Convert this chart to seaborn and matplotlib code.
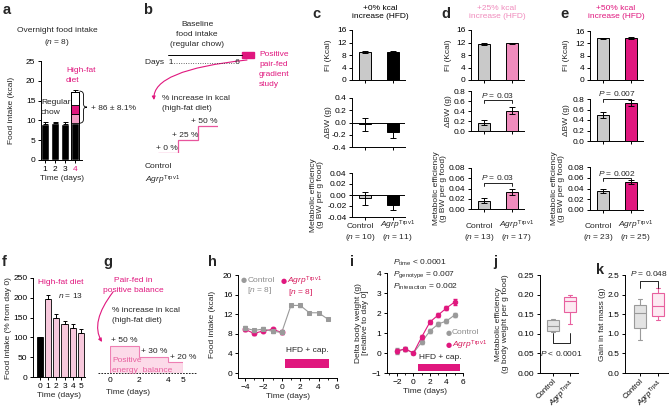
import matplotlib
matplotlib.use('Agg')
import matplotlib.pyplot as plt
import seaborn as sns
from matplotlib.path import Path
from matplotlib.patches import PathPatch, FancyArrowPatch
from matplotlib.transforms import Affine2D, blended_transform_factory
from matplotlib.ticker import MultipleLocator, FormatStrFormatter

# ---------------- data ----------------
# panel a
a_days = ['1', '2', '3', '4']
a_chow = [9.2, 9.3, 9.2, 9.3]
a_chow_err = [0.45, 0.4, 0.45, 0.0]
a_hfd_bounds = [9.3, 11.6, 14.0, 17.2]
a_hfd_err = 0.6
a_increase = '+ 86 ± 8.1%'

# panels c-e
groups = ['Control', 'Agrp']
c_fi, c_fi_err = [9.0, 9.1], [0.3, 0.2]
c_bw, c_bw_err = [-0.03, -0.16], [0.11, 0.10]
c_me, c_me_err = [-0.006, -0.018], [0.012, 0.010]
c_n = [10, 11]
d_fi, d_fi_err = [11.4, 11.7], [0.3, 0.3]
d_bw, d_bw_err = [0.17, 0.41], [0.05, 0.07]
d_me, d_me_err = [0.016, 0.034], [0.005, 0.006]
d_n = [13, 17]
d_p = ['0.03', '0.03']
e_fi, e_fi_err = [13.6, 13.7], [0.25, 0.25]
e_bw, e_bw_err = [0.49, 0.72], [0.06, 0.06]
e_me, e_me_err = [0.035, 0.052], [0.004, 0.003]
e_n = [23, 25]
e_p = ['0.007', '0.002']

# panel f
f_days = ['0', '1', '2', '3', '4', '5']
f_vals = [100, 198, 150, 134, 125, 112]
f_err = [2, 8, 8, 8, 10, 10]

# panel b / g schematics
b_pct = [0, 25, 50]
g_edges = [0, 2, 4, 5]
g_pct = [50, 30, 20]

# panel h
h_days = [-4, -3, -2, -1, 0, 1, 2, 3, 4, 5]
h_ctrl = [9.2, 8.7, 9.0, 8.5, 8.3, 13.8, 13.8, 12.3, 12.3, 11.0]
h_ctrl_err = [0.5, 0.3, 0.3, 0.3, 0.4, 0.3, 0.3, 0.2, 0.2, 0.2]
h_agrp_days = [-4, -3, -2, -1, 0]
h_agrp = [8.9, 8.1, 8.6, 8.9, 8.3]
h_agrp_err = [0.3, 0.3, 0.3, 0.2, 0.3]
h_hfd = [0.4, 5.1]

# panel i
i_days = [-2, -1, 0, 1, 2, 3, 4, 5]
i_ctrl = [0.1, 0.2, 0.0, 0.55, 1.1, 1.45, 1.6, 1.9]
i_ctrl_err = [0.15, 0.1, 0.03, 0.1, 0.1, 0.12, 0.12, 0.12]
i_agrp = [0.1, 0.2, 0.0, 0.8, 1.55, 1.9, 2.25, 2.55]
i_agrp_err = [0.12, 0.1, 0.03, 0.1, 0.1, 0.12, 0.12, 0.15]
i_hfd = [0.55, 5.6]

# panels j, k (box summaries)
j_whislo = [0.104, 0.125]
j_q1 = [0.108, 0.156]
j_med = [0.121, 0.184]
j_q3 = [0.135, 0.195]
j_whishi = [0.138, 0.200]
k_whislo = [0.83, 1.36]
k_q1 = [1.16, 1.46]
k_med = [1.52, 1.70]
k_q3 = [1.74, 2.03]
k_whishi = [1.89, 2.18]

# ---------------- style ----------------
sns.set_style('ticks')
plt.rcParams['font.family'] = ['Liberation Sans', 'DejaVu Sans']
plt.rcParams['mathtext.fontset'] = 'custom'
plt.rcParams['mathtext.rm'] = 'Liberation Sans'
plt.rcParams['mathtext.it'] = 'Liberation Sans:italic'
plt.rcParams['mathtext.bf'] = 'Liberation Sans:bold'
FS = 6.0
plt.rcParams.update({'font.size': FS, 'axes.linewidth': 0.7,
                     'xtick.labelsize': FS, 'ytick.labelsize': FS,
                     'axes.edgecolor': 'black', 'xtick.color': 'black', 'ytick.color': 'black'})

MAG = '#e0177e'
PINK = '#f08cbd'
LPINK = '#f7c8dc'
GRAY = '#c9c9c9'
DGRAY = '#9a9a9a'
AGRP = r'$\it{Agrp}^{\rm{Trpv1}}$'

W, H = 669, 409
fig = plt.figure(figsize=(W / 100, H / 100), dpi=100)
PX = Affine2D().scale(1 / W, -1 / H).translate(0, 1) + fig.transFigure


def axpx(x0, y0, x1, y1):
    ax = fig.add_axes([x0 / W, 1 - y1 / H, (x1 - x0) / W, (y1 - y0) / H])
    ax.set_facecolor('none')
    sns.despine(ax=ax)
    ax.tick_params(length=2.5, width=0.7, pad=1.5, labelsize=FS)
    return ax


def tx(x, y, s, **kw):
    kw.setdefault('va', 'center')
    kw.setdefault('ha', 'left')
    kw.setdefault('fontsize', FS)
    return fig.text(x, y, s, transform=PX, **kw)


def ylab(x, y, s, **kw):
    tx(x, y, s, rotation=90, ha='center', va='center', **kw)


def bracket(ax, y, leg, text, ty, down=True):
    s = -1 if down else 1
    ax.plot([0, 0, 1, 1], [y + s * leg, y, y, y + s * leg], color='black', lw=0.6, clip_on=False)
    ax.text(0.5, ty, text, ha='center', va='center', fontsize=FS, clip_on=False)


# letters
for L, x, y in [('a', 3, 10), ('b', 143, 10), ('c', 312, 14), ('d', 441, 14), ('e', 560, 14),
                ('f', 2, 262), ('g', 103, 262), ('h', 208, 262), ('i', 350, 262), ('j', 493, 262), ('k', 596, 270)]:
    tx(x, y, L, fontsize=10.5, fontweight='bold')

# ---------------- panel a ----------------
ax = axpx(41, 61, 82, 160)
sns.barplot(x=a_days, y=a_chow, color='black', width=0.85, saturation=1, errorbar=None, ax=ax)
ax.errorbar(range(3), a_chow[:3], yerr=[[0] * 3, a_chow_err[:3]], fmt='none', ecolor='black',
            elinewidth=0.7, capsize=1.8, capthick=0.7)
i4 = a_days.index('4')
for lo, hi, col in zip(a_hfd_bounds[:-1], a_hfd_bounds[1:], ['#f29bc4', MAG, 'white']):
    ax.bar(i4, hi - lo, bottom=lo, width=0.85, color=col, edgecolor='black', lw=0.6)
ax.bar(i4, a_hfd_bounds[-1], width=0.85, fill=False, edgecolor='black', lw=0.7)
ax.errorbar([i4], [a_hfd_bounds[-1]], yerr=[[0], [a_hfd_err]], fmt='none', ecolor='black',
            elinewidth=0.7, capsize=1.8, capthick=0.7)
ax.set_xlim(-0.4, 3.7)
ax.set_ylim(0, 25)
ax.set_yticks(range(0, 26, 5))
ax.set_xticks(range(4), a_days)
ax.get_xticklabels()[3].set_color(MAG)
ax.set_xlabel('Time (days)', fontsize=FS, labelpad=2)
top, bot = a_hfd_bounds[-1] + 0.2, a_hfd_bounds[0]
mid = (top + bot) / 2
verts = [(3.45, top), (3.85, top), (3.85, top - 1.0), (3.85, mid + 0.8),
         (3.85, mid), (4.2, mid), (3.85, mid), (3.85, mid - 0.8),
         (3.85, bot + 1.0), (3.85, bot), (3.45, bot)]
codes = [Path.MOVETO, Path.CURVE3, Path.CURVE3, Path.LINETO, Path.CURVE3, Path.CURVE3,
         Path.CURVE3, Path.CURVE3, Path.LINETO, Path.CURVE3, Path.CURVE3]
ax.add_patch(PathPatch(Path(verts, codes), fill=False, lw=0.6, color='black', clip_on=False))
ylab(12, 110, 'Food intake (kcal)')
tx(57, 30, 'Overnight food intake', ha='center')
tx(57, 42, '($n$ = 8)', ha='center')
tx(41, 103, 'Regular', zorder=10)
tx(41, 113, 'chow', zorder=10)
tx(66, 71, 'High-fat', color=MAG)
tx(66, 81, 'diet', color=MAG)
tx(91, 108, a_increase)

# ---------------- panel b ----------------
tx(197, 25, 'Baseline', ha='center')
tx(197, 35, 'food intake', ha='center')
tx(197, 45, '(regular chow)', ha='center')
fig.add_artist(plt.Line2D([168, 242], [54.5, 54.5], transform=PX, color='black', lw=0.7))
fig.add_artist(plt.Rectangle((242, 51.5), 12, 6, transform=PX, color=MAG))
for k, s in enumerate(['Positive', 'pair-fed', 'gradient', 'study']):
    tx(259, 55 + 10 * k, s, color=MAG)
tx(145, 63, 'Days  1' + '.' * 26 + '6')
arr = FancyArrowPatch(path=Path([(247, 60), (152, 70), (154, 100)], [Path.MOVETO, Path.CURVE3, Path.CURVE3]),
                      transform=PX, arrowstyle='-|>', mutation_scale=5, color=MAG, lw=0.8)
fig.add_artist(arr)
tx(162, 98, '% increase in kcal')
tx(162, 108, '(high-fat diet)')
axb = fig.add_axes([158 / W, 1 - 153 / H, 60 / W, 32 / H])
axb.set_axis_off()
axb.stairs(b_pct, range(len(b_pct) + 1), baseline=None, color='#e8559d', lw=0.9)
axb.set_xlim(0, 3)
axb.set_ylim(0, 60)
for k, p in enumerate(b_pct):
    axb.text(k + 1, p + 2, f'+ {p} %', ha='right', va='bottom', fontsize=FS, clip_on=False)
tx(145, 167, 'Control')
tx(145, 180, AGRP)

# ---------------- panels c, d, e ----------------
cols = [
    dict(x0=352, fi=(c_fi, c_fi_err), bw=(c_bw, c_bw_err), me=(c_me, c_me_err), n=c_n, color='black',
         tcol='black', pct='+0%', rows=[(30, 80), (98, 147), (173, 217)], bwlim=(-0.4, 0.4),
         melim=(-0.04, 0.04), p=None, tc=380, lab=(24, 35)),
    dict(x0=471, fi=(d_fi, d_fi_err), bw=(d_bw, d_bw_err), me=(d_me, d_me_err), n=d_n, color=PINK,
         tcol=PINK, pct='+25%', rows=[(30, 80), (91, 131), (168, 209)], bwlim=(0, 0.8),
         melim=(0, 0.08), p=d_p, br=[(0.62, 0.72), (0.051, 0.061)], tc=497, lab=(22, 31)),
    dict(x0=590, fi=(e_fi, e_fi_err), bw=(e_bw, e_bw_err), me=(e_me, e_me_err), n=e_n, color=MAG,
         tcol=MAG, pct='+50%', rows=[(31, 80), (99, 141), (167, 210)], bwlim=(0, 0.8),
         melim=(0, 0.08), p=e_p, br=[(0.80, 0.91), (0.059, 0.068)], tc=616, lab=(24, 32)),
]
for cfg in cols:
    x0 = cfg['x0']
    tx(cfg['tc'], 8, cfg['pct'] + ' kcal', ha='center', color=cfg['tcol'])
    tx(cfg['tc'], 17, 'increase (HFD)', ha='center', color=cfg['tcol'])
    for r, key in enumerate(['fi', 'bw', 'me']):
        y0, y1 = cfg['rows'][r]
        ax = axpx(x0, y0, x0 + 53, y1)
        vals, errs = cfg[key]
        sns.barplot(x=groups, y=vals, hue=groups, palette=[GRAY, cfg['color']], legend=False,
                    width=0.42, saturation=1, edgecolor='black', linewidth=0.7, errorbar=None, ax=ax)
        ax.errorbar([0, 1], vals, yerr=errs, fmt='none', ecolor='black', elinewidth=0.7,
                    capsize=2, capthick=0.7, zorder=5)
        ax.set_xlim(-0.46, 1.43)
        ax.set_xlabel('')
        ax.set_ylabel('')
        if key == 'fi':
            ax.set_ylim(0, 16)
            ax.set_yticks(range(0, 17, 4))
            ylab(x0 - cfg['lab'][0], (y0 + y1) / 2, 'FI (Kcal)')
        elif key == 'bw':
            ax.set_ylim(*cfg['bwlim'])
            ax.set_yticks([cfg['bwlim'][0] + 0.2 * k for k in range(5)])
            ax.yaxis.set_major_formatter(FormatStrFormatter('%.1f'))
            ylab(x0 - cfg['lab'][0], (y0 + y1) / 2, 'ΔBW (g)')
        else:
            ax.set_ylim(*cfg['melim'])
            ax.set_yticks([cfg['melim'][0] + 0.02 * k for k in range(5)])
            ax.yaxis.set_major_formatter(FormatStrFormatter('%.2f'))
            ylab(x0 - cfg['lab'][1], (y0 + y1) / 2, 'Metabolic efficiency\n(g BW per g food)', linespacing=1.05)
        if key in ('bw', 'me') and cfg['p'] is None:
            ax.axhline(0, color='black', lw=0.7, zorder=4)
        ax.set_xticks([0, 1])
        ax.set_xticklabels([])
        if key == 'me':
            trans = blended_transform_factory(ax.transData, PX)
            for k, (name, dx) in enumerate(zip(['Control', AGRP], [-0.15, 0.15])):
                ax.text(k + dx, 228, name, transform=trans, ha='center', va='baseline',
                        fontsize=FS, clip_on=False)
                ax.text(k + dx, 239, '($n$ = %d)' % cfg['n'][k], transform=trans, ha='center',
                        va='baseline', fontsize=FS, clip_on=False)
        if cfg['p'] is not None and key != 'fi':
            idx = 0 if key == 'bw' else 1
            lo, hi = cfg['bwlim'] if key == 'bw' else cfg['melim']
            by, ty = cfg['br'][idx]
            bracket(ax, by, 0.07 * (hi - lo), '$P$ = ' + cfg['p'][idx], ty)

# ---------------- panel f ----------------
ax = axpx(33, 278, 85, 377)
sns.barplot(x=f_days, y=f_vals, hue=f_days, palette=['black'] + [LPINK] * 5, legend=False, width=0.75,
            saturation=1, edgecolor='black', linewidth=0.6, errorbar=None, ax=ax)
ax.errorbar(range(len(f_days)), f_vals, yerr=[[0] * len(f_err), f_err], fmt='none', ecolor='black',
            elinewidth=0.7, capsize=1.5, capthick=0.7)
ax.set_xlim(-0.85, 5.5)
ax.set_ylim(0, 250)
ax.set_yticks(range(0, 251, 50))
ax.set_xlabel('Time (days)', fontsize=FS, labelpad=2)
ax.set_ylabel('')
ylab(9, 328, 'Food intake (% from day 0)')
tx(38, 282, 'High-fat diet', color=MAG)
tx(83, 295, '$n$ = 13', ha='right')

# ---------------- panel g ----------------
tx(133, 280, 'Pair-fed in', ha='center', color=MAG)
tx(133, 290, 'positive balance', ha='center', color=MAG)
fig.add_artist(FancyArrowPatch(path=Path([(113, 292), (90, 322), (102, 342)],
                                         [Path.MOVETO, Path.CURVE3, Path.CURVE3]),
                               transform=PX, arrowstyle='-|>', mutation_scale=5, color=MAG, lw=0.8))
tx(112, 310, '% increase in kcal')
tx(112, 320, '(high-fat diet)')
axg = axpx(110, 300, 183, 373)
axg.stairs(g_pct, g_edges, fill=True, color='#fcdbe9', baseline=0)
axg.stairs(g_pct, g_edges, fill=False, color='#ee7fb3', lw=0.8, baseline=0)
axg.axhline(0, xmin=-0.17, xmax=1.19, color='black', lw=0.6, ls=(0, (2, 1.5)), clip_on=False, zorder=0)
for k, p in enumerate(g_pct):
    axg.text(g_edges[k] + 0.1, p + 3, f'+ {p} %', ha='left', va='bottom', fontsize=FS)
axg.set_xlim(0, 5)
axg.set_ylim(0, 135)
for s in ['left', 'bottom']:
    axg.spines[s].set_visible(False)
axg.set_yticks([])
axg.set_xticks(g_edges)
axg.tick_params(axis='x', length=0, pad=3)
tx(112, 361, 'Positive', color='#e8609f')
tx(112, 370, 'energy  balance', color='#e8609f')
tx(128, 393, 'Time (days)', ha='center')

# ---------------- panel h ----------------
ax = axpx(238, 275, 337, 378)
sns.lineplot(x=h_agrp_days, y=h_agrp, color=MAG, marker='o', markersize=3.5, markeredgecolor=MAG,
             lw=0.8, ax=ax)
ax.errorbar(h_agrp_days, h_agrp, yerr=h_agrp_err, fmt='none', ecolor=MAG, elinewidth=0.6, capsize=1.2)
sns.lineplot(x=h_days, y=h_ctrl, color=DGRAY, marker='s', markersize=3.5, markeredgecolor=DGRAY,
             lw=0.8, ax=ax)
ax.errorbar(h_days, h_ctrl, yerr=h_ctrl_err, fmt='none', ecolor=DGRAY, elinewidth=0.6, capsize=1.2)
ax.axvspan(h_hfd[0], h_hfd[1], ymin=(1.0 + 1) / 21, ymax=(2.9 + 1) / 21, color=MAG, lw=0)
ax.text(0.5, 3.9, 'HFD + cap.', fontsize=FS, va='bottom')
ax.set_xlim(-4.75, 6.0)
ax.set_ylim(-1, 20)
ax.set_yticks(range(0, 21, 4))
ax.set_xticks(range(-4, 7, 2))
ax.xaxis.set_minor_locator(MultipleLocator(1))
ax.tick_params(axis='x', which='minor', length=1.5, width=0.6)
ax.set_xlabel('Time (days)', fontsize=FS, labelpad=2)
ax.set_ylabel('')
ylab(213, 324, 'Food intake (kcal)')
tx(241, 280, '●', color=DGRAY, fontsize=5, family='DejaVu Sans')
tx(248, 280, 'Control', color='#8c8c8c')
tx(247, 291, '[$n$ = 8]', color='#8c8c8c')
tx(281, 281, '●', color=MAG, fontsize=5, family='DejaVu Sans')
tx(287, 281, AGRP, color='#d6195b')
tx(288, 293, '[$n$ = 8]', color='#d6195b')

# ---------------- panel i ----------------
ax = axpx(387, 273, 463, 373)
sns.lineplot(x=i_days, y=i_ctrl, color=DGRAY, marker='o', markersize=3.2, markeredgecolor=DGRAY,
             lw=0.8, ax=ax)
ax.errorbar(i_days, i_ctrl, yerr=i_ctrl_err, fmt='none', ecolor=DGRAY, elinewidth=0.6, capsize=1.2)
sns.lineplot(x=i_days, y=i_agrp, color=MAG, marker='o', markersize=3.2, markeredgecolor=MAG,
             lw=0.8, ax=ax)
ax.errorbar(i_days, i_agrp, yerr=i_agrp_err, fmt='none', ecolor=MAG, elinewidth=0.6, capsize=1.2)
ax.axvspan(i_hfd[0], i_hfd[1], ymin=0.02, ymax=0.09, color=MAG, lw=0)
ax.text(0.7, -0.42, 'HFD + cap.', fontsize=FS, va='bottom')
ax.set_xlim(-3.2, 6.0)
ax.set_ylim(-1, 4)
ax.set_yticks(range(-1, 5))
ax.set_xticks(range(-2, 7, 2))
ax.xaxis.set_minor_locator(MultipleLocator(1))
ax.tick_params(axis='x', which='minor', length=1.5, width=0.6)
ax.set_xlabel('Time (days)', fontsize=FS, labelpad=2)
ax.set_ylabel('')
ylab(362, 323, 'Delta body weight (g)\n[relative to day 0]', linespacing=1.1)
tx(446, 333, '●', color=DGRAY, fontsize=5, family='DejaVu Sans')
tx(452, 333, 'Control', color='#8c8c8c')
tx(446, 345, '●', color=MAG, fontsize=5, family='DejaVu Sans')
tx(452, 345, AGRP, color='#d6195b')
tx(393, 263, r'$P_{\rm{time}}$ < 0.0001')
tx(393, 275, r'$P_{\rm{genotype}}$ = 0.007')
tx(393, 287, r'$P_{\rm{interaction}}$ = 0.002')


# ---------------- panels j, k ----------------
def boxes(ax, lo, q1, med, q3, hi):
    stats = [dict(whislo=lo[k], q1=q1[k], med=med[k], q3=q3[k], whishi=hi[k], label=groups[k])
             for k in range(2)]
    res = ax.bxp(stats, positions=[0, 1], widths=0.7, patch_artist=True, showfliers=False,
                 capwidths=0.25)
    for k, (fc, ec) in enumerate([('#e3e3e3', DGRAY), ('#fdeaf2', '#e8609f')]):
        res['boxes'][k].set(facecolor=fc, edgecolor=ec, lw=0.8)
        res['medians'][k].set(color=ec, lw=0.8)
        for art in res['whiskers'][2 * k:2 * k + 2] + res['caps'][2 * k:2 * k + 2]:
            art.set(color=ec, lw=0.8)
    ax.set_xticks([0, 1])
    ax.set_xticklabels(['Control', AGRP], rotation=45, ha='right', rotation_mode='anchor', fontsize=5.6)
    ax.tick_params(axis='x', pad=1)


ax = axpx(540, 275, 578, 373)
boxes(ax, j_whislo, j_q1, j_med, j_q3, j_whishi)
ax.set_xlim(-0.76, 1.47)
ax.set_ylim(0, 0.25)
ax.set_yticks([0.05 * k for k in range(6)])
ax.yaxis.set_major_formatter(FormatStrFormatter('%.2f'))
bracket(ax, 0.077, -0.025, '$P$ < 0.0001', 0.05)
ylab(502, 324, 'Metabolic efficiency\n(g body weight per g food)', linespacing=1.1)

ax = axpx(625, 275, 668, 373)
boxes(ax, k_whislo, k_q1, k_med, k_q3, k_whishi)
ax.set_xlim(-0.83, 1.55)
ax.set_ylim(0, 2.5)
ax.set_yticks([0.5 * k for k in range(6)])
ax.yaxis.set_major_formatter(FormatStrFormatter('%.1f'))
bracket(ax, 2.34, 0.17, '$P$ = 0.048', 2.53)
ylab(602, 324, 'Gain in fat mass (g)')

fig.savefig('out.png', dpi=100)
